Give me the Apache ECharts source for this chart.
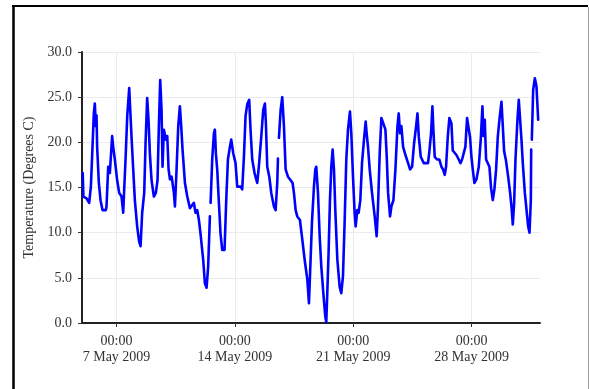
<!DOCTYPE html>
<html>
<head>
<meta charset="utf-8">
<script src="https://cdn.jsdelivr.net/npm/echarts@6/dist/echarts.min.js"></script>
<style>
  html, body { margin: 0; padding: 0; background: #ffffff; }
  #chart { width: 589px; height: 389px; }
</style>
</head>
<body>
<div id="chart"></div>
<script>
// Logger record start: 5 May 2009 00:00 (local clock)
const startTime = Date.UTC(2009, 4, 5, 0, 0);

// Hours elapsed since the record start
const hours = [
  0, 1, 5.4, 9.2, 11.6, 13.9, 15.8, 17.2, 18.7, 19.6, 20.5, 22.9, 25.3, 28.1, 32.9, 33.8,
  36.2, 38.5, 41.8, 43.3, 45.6, 48.9, 51.8, 55.1, 57.5, 58.9, 60.8, 63.2, 66.0, 67.9, 69.3,
  71.7, 74.0, 77.3, 80.1, 82.1, 84.4, 87.3, 89.2, 91.5, 93.4, 95.3, 97.7, 101.0, 103.8,
  106.2, 108.1, 110.0, 111.9, 113.3, 115.2, 118.1, 120.0, 121.9, 123.8, 126.2, 129.4, 130.9,
  133.2, 135.6, 137.9, 139.8, 141.7, 145.1, 148.4, 152.2,
  157.8, 160.1, 162.5, 164.9, 167.2, 171.0, 173.4, 175.8, 178.1, 180.5, 181.0, 181.5, 183.8,
  186.2, 187.6, 189.0, 190.9, 193.3, 195.6, 198.0, 201.3, 203.7, 206.1, 208.9, 210.8, 213.6,
  216.9, 219.3, 221.6, 224.0, 226.4, 228.8, 231.1, 233.5, 236.3, 238.2, 240.6, 243.9, 247.7,
  250.0, 253.4, 256.2, 258.6, 260.0, 261.9, 264.8, 267.6, 271.4, 273.8, 276.1, 277.1, 277.8,
  278.5, 280.9, 283.2, 285.6, 288.0, 291.3, 295.1, 297.9, 299.8, 302.2, 304.5, 308.3, 311.7,
  315.0, 318.8, 321.1,
  323.5, 325.4, 328.2, 330.1, 331.5, 333.9, 336.3, 338.6, 341.5, 344.3, 345.7, 347.1, 349.0,
  350.9, 352.8, 354.7, 356.6, 358.5, 361.4, 364.7, 367.0, 369.4, 371.8, 374.1, 376.5, 379.3,
  381.2, 383.6, 385.9, 387.4, 389.7, 391.6, 394.0, 396.4, 399.2, 401.6, 403.0, 404.9, 407.3,
  410.6, 414.4, 417.2, 419.1, 421.5, 423.9, 426.7, 429.6, 431.5, 433.4, 436.2, 438.1, 441.0,
  443.8, 446.7, 448.5, 450.4, 452.3, 454.7, 458.0, 461.8, 464.6, 467.5, 470.3, 473.2, 475.1,
  477.0, 479.8,
  481.6, 484.0, 486.3, 490.1, 492.0, 494.4, 496.3, 497.7, 499.6, 502.9, 506.2, 509.1, 511.4,
  513.8, 515.7, 518.1, 520.4, 523.3, 525.2, 527.5, 530.4, 533.7, 536.1, 538.4, 540.8, 543.1,
  545.5, 547.9, 549.8, 551.7, 553.6, 555.9, 558.8, 562.1, 564.9, 567.3, 568.7, 570.6, 572.5,
  574.9, 577.2, 579.6, 582.0, 584.3, 586.7, 589.1, 591.4, 594.3, 596.2, 598.1, 600.9, 603.8,
  606.6, 608.5, 610.4, 612.3, 614.2, 617.0, 618.9, 620.8, 622.7, 624.6, 627.5, 630.3, 632.2,
  634.1, 636.0, 636.5, 637.0, 637.4, 639.3, 641.7, 644.0, 646.4
];

// Temperature readings (degrees C); null marks a gap in the record
const temps = [
  16.6, 14.0, 13.8, 13.3, 15.1, 19.5, 23.2, 24.3, 21.8, 23.0, 19.5, 15.5, 13.6, 12.5, 12.5, 12.9,
  17.3, 16.6, 20.7, 19.5, 18.1, 15.8, 14.4, 14.0, 12.2, 14.8, 18.1, 22.9, 26.0, 22.9, 20.6,
  17.0, 13.6, 10.7, 9.0, 8.5, 12.2, 14.4, 19.9, 24.9, 22.5, 18.8, 15.8, 14.0, 14.4,
  15.8, 21.8, 26.9, 23.6, 17.3, 21.4, 20.3, 20.7, 17.0, 15.9, 16.2, 14.4, 12.9,
  17.0, 21.8, 24.0, 21.8, 19.2, 15.5, 14.0, 12.7,
  13.3, 12.2, 12.5, 11.4, 9.9, 7.0, 4.4, 3.9, 6.3, 11.8, null, 13.3, 18.1,
  21.0, 21.4, 18.8, 17.0, 13.3, 9.9, 8.1, 8.1, 13.6, 18.1, 19.5, 20.3, 18.8,
  17.7, 15.1, 14.9, 15.1, 14.8, 18.4, 22.9, 24.2, 24.7, 21.4, 18.1, 16.6, 15.5,
  17.3, 20.6, 23.6, 24.3, 22.1, 17.3, 16.2, 14.4, 12.9, 12.5, 15.5, 18.2, null,
  20.5, 23.6, 25.0, 21.8, 17.0, 16.2, 15.8, 15.5, 14.4, 12.5, 11.8, 11.4, 9.2,
  7.0, 4.8, 2.2,
  7.2, 11.2, 15.1, 17.0, 17.3, 14.4, 9.6, 6.3, 3.3, 0.7, 0.1, 3.3, 7.9,
  13.6, 17.3, 19.2, 17.0, 12.5, 7.0, 4.0, 3.3, 5.2, 11.4, 18.1, 21.4, 23.4,
  21.0, 16.2, 12.2, 10.7, 12.5, 12.2, 13.6, 17.7, 20.3, 22.3, 21.0, 19.5, 17.0,
  14.4, 11.8, 9.6, 12.9, 18.8, 22.7, 22.9, 21.4, 18.4, 14.4, 11.8, 12.9, 13.6,
  17.0, 21.8, 23.2, 21.0, 21.8, 19.5, 18.6, 17.7, 17.0, 17.3, 19.9, 21.8, 23.2,
  20.6, 18.4,
  18.4, 17.7, 17.5, 17.7, 19.0, 21.0, 24.0, 21.4, 18.4, 18.1, 18.1, 17.3, 17.0,
  16.4, 17.3, 20.6, 22.7, 22.1, 19.1, 19.0, 18.6, 18.1, 17.7, 18.1, 18.1, 19.5,
  22.7, 22.5, 20.5, 18.4, 17.0, 15.5, 15.9, 17.3, 20.3, 24.0, 20.7, 22.5, 18.1,
  18.1, 17.3, 14.9, 13.6, 14.8, 17.0, 20.6, 22.5, 24.5, 21.8, 19.0, 17.9, 16.2,
  14.4, 12.9, 10.9, 13.3, 18.1, 22.5, 24.7, 22.5, 20.3, 17.7, 14.4, 12.2, 10.7,
  10.0, 13.6, 19.2, null, 20.3, 25.8, 27.1, 26.2, 22.5
];

// Week markers on the time axis
const weekTicks = [
  Date.UTC(2009, 4, 7), Date.UTC(2009, 4, 14), Date.UTC(2009, 4, 21), Date.UTC(2009, 4, 28)
];
const monthNames = ['Jan', 'Feb', 'Mar', 'Apr', 'May', 'Jun', 'Jul', 'Aug', 'Sep', 'Oct', 'Nov', 'Dec'];

const seriesData = hours.map((h, i) => [startTime + h * 3600e3, temps[i] === null ? '-' : temps[i]]);

const font = "'Liberation Serif', 'DejaVu Serif', 'Times New Roman', serif";
const pad2 = n => (n < 10 ? '0' : '') + n;

const chart = echarts.init(document.getElementById('chart'), null, { renderer: 'canvas' });
chart.setOption({
  animation: false,
  backgroundColor: '#ffffff',
  textStyle: { fontFamily: font },
  grid: { left: 82, right: 49, top: 52, bottom: 66, containLabel: false },
  xAxis: {
    type: 'value',
    min: Date.UTC(2009, 4, 4, 23, 0),
    max: Date.UTC(2009, 5, 1, 1, 0),
    axisLine: { show: true, onZero: false, lineStyle: { color: '#222', width: 2 } },
    axisTick: { show: true, length: 4, customValues: weekTicks, lineStyle: { color: '#333' } },
    splitLine: { show: true, lineStyle: { color: '#ebebeb', width: 1 } },
    axisLabel: {
      customValues: weekTicks,
      color: '#333',
      fontFamily: font,
      fontSize: 14,
      lineHeight: 16,
      margin: 10,
      formatter: v => {
        const d = new Date(v);
        return pad2(d.getUTCHours()) + ':' + pad2(d.getUTCMinutes()) + '\n' +
          d.getUTCDate() + ' ' + monthNames[d.getUTCMonth()] + ' ' + d.getUTCFullYear();
      }
    }
  },
  yAxis: {
    type: 'value',
    min: 0,
    max: 30,
    interval: 5,
    name: 'Temperature (Degrees C)',
    nameLocation: 'middle',
    nameGap: 46,
    nameTextStyle: { color: '#333', fontFamily: font, fontSize: 14 },
    axisLine: { show: true, lineStyle: { color: '#222', width: 2 } },
    axisTick: { show: true, length: 4, lineStyle: { color: '#333' } },
    splitLine: { show: true, lineStyle: { color: '#ebebeb', width: 1 } },
    axisLabel: {
      color: '#333',
      fontFamily: font,
      fontSize: 14,
      margin: 10,
      formatter: v => v.toFixed(1)
    }
  },
  series: [{
    type: 'line',
    data: seriesData,
    showSymbol: false,
    connectNulls: false,
    lineStyle: { color: '#0000ff', width: 2.6, join: 'round', cap: 'round' },
    itemStyle: { color: '#0000ff' }
  }],
  graphic: [
    { type: 'line', silent: true, shape: { x1: 13.5, y1: 5, x2: 13.5, y2: 389 }, style: { stroke: '#000', lineWidth: 2.5 } },
    { type: 'line', silent: true, shape: { x1: 12, y1: 6, x2: 588, y2: 6 }, style: { stroke: '#000', lineWidth: 2 } },
    { type: 'line', silent: true, shape: { x1: 588.5, y1: 7, x2: 588.5, y2: 389 }, style: { stroke: '#a0a0a0', lineWidth: 1 } }
  ]
});
</script>
</body>
</html>
